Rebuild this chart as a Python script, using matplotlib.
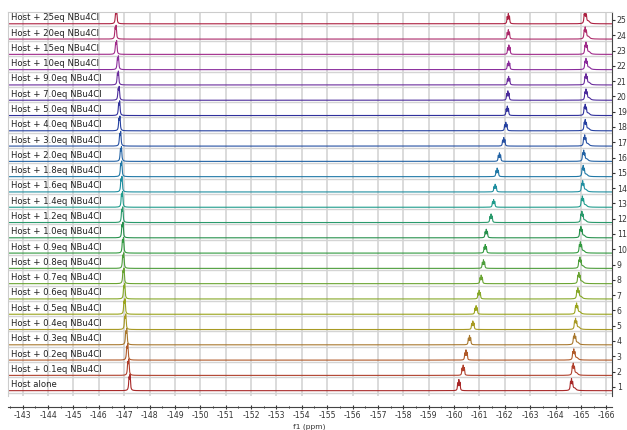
import numpy as np
import matplotlib.pyplot as plt

plt.rcParams['axes.unicode_minus'] = False

# equivalents of NBu4Cl, bottom trace first
labels = ['Host alone', 'Host + 0.1eq NBu4Cl', 'Host + 0.2eq NBu4Cl', 'Host + 0.3eq NBu4Cl',
          'Host + 0.4eq NBu4Cl', 'Host + 0.5eq NBu4Cl', 'Host + 0.6eq NBu4Cl', 'Host + 0.7eq NBu4Cl',
          'Host + 0.8eq NBu4Cl', 'Host + 0.9eq NBu4Cl', 'Host + 1.0eq NBu4Cl', 'Host + 1.2eq NBu4Cl',
          'Host + 1.4eq NBu4Cl', 'Host + 1.6eq NBu4Cl', 'Host + 1.8eq NBu4Cl', 'Host + 2.0eq NBu4Cl',
          'Host + 3.0eq NBu4Cl', 'Host + 4.0eq NBu4Cl', 'Host + 5.0eq NBu4Cl', 'Host + 7.0eq NBu4Cl',
          'Host + 9.0eq NBu4Cl', 'Host + 10eq NBu4Cl', 'Host + 15eq NBu4Cl', 'Host + 20eq NBu4Cl',
          'Host + 25eq NBu4Cl']

# peak positions (ppm)
peak_a = [-147.21, -147.16, -147.12, -147.08, -147.04, -147.01, -147.00, -146.97, -146.96,
          -146.95, -146.93, -146.92, -146.91, -146.89, -146.88, -146.87, -146.84, -146.81,
          -146.80, -146.78, -146.75, -146.75, -146.68, -146.66, -146.68]
peak_b = [-160.19, -160.36, -160.47, -160.61, -160.74, -160.87, -160.99, -161.07, -161.16,
          -161.23, -161.27, -161.46, -161.56, -161.62, -161.70, -161.79, -161.96, -162.04,
          -162.10, -162.12, -162.15, -162.15, -162.16, -162.14, -162.14]
peak_c = [-164.63, -164.70, -164.72, -164.75, -164.79, -164.83, -164.88, -164.92, -164.96,
          -164.98, -165.00, -165.04, -165.06, -165.07, -165.09, -165.11, -165.15, -165.17,
          -165.17, -165.20, -165.20, -165.20, -165.20, -165.17, -165.17]

# peak heights (in trace-spacing units)
height_a = [0.95, 0.95, 0.95, 0.95, 0.9, 0.9, 0.9, 0.9, 0.9, 0.9, 0.9, 0.9, 0.9,
            0.9, 0.9, 0.85, 0.85, 0.85, 0.85, 0.8, 0.8, 0.8, 0.8, 0.8, 0.8]
height_b = [0.65, 0.6, 0.6, 0.55, 0.5, 0.5, 0.5, 0.5, 0.5, 0.5, 0.5, 0.5, 0.45,
            0.45, 0.5, 0.5, 0.5, 0.5, 0.55, 0.55, 0.5, 0.5, 0.55, 0.55, 0.6]
height_c = [0.65, 0.65, 0.6, 0.6, 0.6, 0.6, 0.6, 0.6, 0.6, 0.6, 0.6, 0.6, 0.6,
            0.6, 0.6, 0.6, 0.6, 0.6, 0.6, 0.6, 0.6, 0.6, 0.65, 0.65, 0.7]

colors = ['#a82828', '#b0402c', '#b05a2a', '#a8782e', '#a89a24', '#9aa41c', '#86a828',
          '#6aa432', '#4e9e3c', '#329a40', '#26904c', '#2a9a6c', '#1f9c8c', '#1e8ea0',
          '#2078a6', '#2262a4', '#2650a2', '#2440a0', '#30309c', '#4c2c9c', '#6a2c9c',
          '#8a2c9c', '#a02a8a', '#ac2a6a', '#ac2040']

ppm = np.linspace(-142.3, -166.3, 24000)


def lorentz(x, x0, w):
    return w ** 2 / ((x - x0) ** 2 + w ** 2)


def trace(i):
    y = np.zeros_like(ppm)
    y += height_a[i] * (0.8 * lorentz(ppm, peak_a[i] + 0.02, 0.018) +
                        lorentz(ppm, peak_a[i] - 0.02, 0.018))
    y += height_b[i] * (0.7 * lorentz(ppm, peak_b[i] + 0.045, 0.014) +
                        lorentz(ppm, peak_b[i], 0.014) +
                        0.75 * lorentz(ppm, peak_b[i] - 0.045, 0.014))
    y += height_c[i] * (0.75 * lorentz(ppm, peak_c[i] + 0.04, 0.016) +
                        lorentz(ppm, peak_c[i], 0.016) +
                        0.7 * lorentz(ppm, peak_c[i] - 0.045, 0.016) +
                        0.25 * lorentz(ppm, peak_c[i] - 0.12, 0.06))
    return y


fig = plt.figure(figsize=(6.27, 4.30), dpi=100)
ax = fig.add_axes([0.0128, 0.079, 0.963, 0.893])

for k in range(-166, -142):
    ax.axvline(k, color='#d4d4d4', lw=1.2, zorder=0)

for i in range(len(labels)):
    base = i + 1 - 0.25
    ax.axhline(base - 0.12, color='#d4d4d4', lw=1.0, zorder=0)
    ax.plot(ppm, base + trace(i), color=colors[i], lw=0.8, zorder=2)
    ax.text(-142.55, base + 0.1, labels[i], fontsize=6.1, color='#222222',
            ha='left', va='bottom', zorder=3)

ax.set_xlim(-142.42, -166.22)
ax.set_ylim(0.4, 25.52)

ax.yaxis.tick_right()
ax.set_yticks(range(1, 26))
ax.tick_params(axis='y', labelsize=5.6, length=2.5, width=0.8, pad=1, colors='#333333')

ax.set_xticks(range(-166, -142))
ax.set_xticks(np.arange(-165.5, -142, 1.0), minor=True)
ax.tick_params(axis='x', which='major', labelsize=5.6, length=3, width=0.8, direction='inout',
               pad=1, colors='#333333')
ax.tick_params(axis='x', which='minor', length=2, width=0.6, direction='inout')
fig.text(0.493, 0.0, 'f1 (ppm)', fontsize=5.4, color='#333333', ha='center', va='bottom')

ax.spines['bottom'].set_position(('outward', 8))
ax.spines['bottom'].set_color('#444444')
ax.spines['right'].set_color('#444444')
ax.spines['left'].set_color('#cccccc')
ax.spines['top'].set_color('#cccccc')

fig.savefig('out.png', dpi=100)
